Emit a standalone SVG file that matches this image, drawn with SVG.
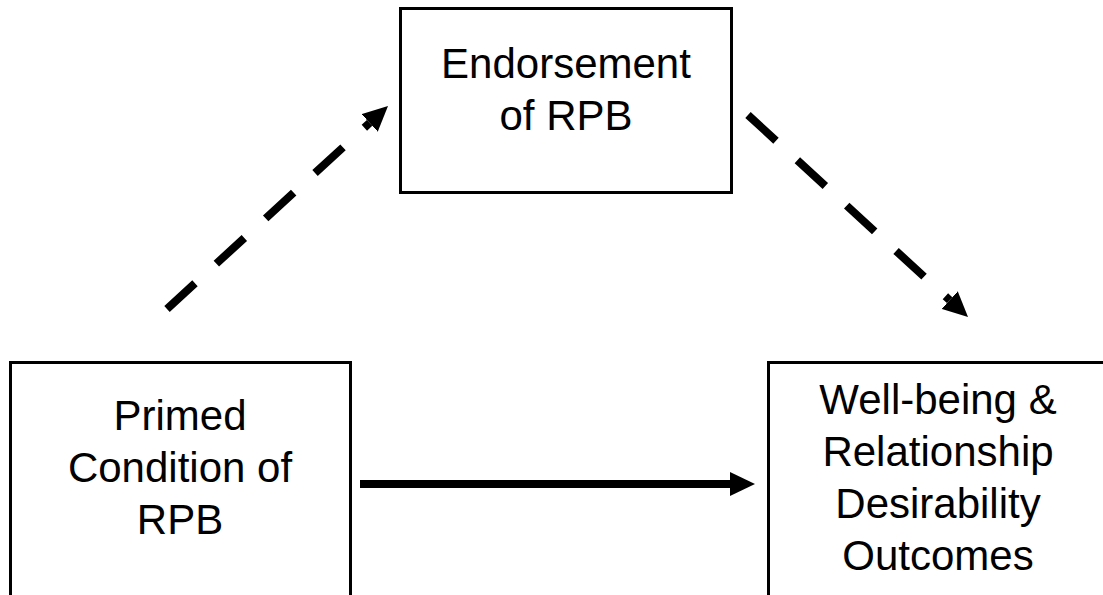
<svg xmlns="http://www.w3.org/2000/svg" width="1103" height="595" viewBox="0 0 1103 595">
<style>
.box{fill:#fff;stroke:#000;stroke-width:3}
.lbl{font-family:"Liberation Sans",Arial,sans-serif;font-size:42px;fill:#000;text-anchor:middle}
.conn{fill:none;stroke:#000;stroke-width:8}
.dash{stroke-dasharray:38 29}
</style>
<defs>
<marker id="ah" markerUnits="userSpaceOnUse" markerWidth="26" markerHeight="24" refX="0" refY="12" orient="auto" viewBox="0 0 26 24">
<path d="M0,0 L25,12 L0,24 z" fill="#000"/>
</marker>
</defs>
<rect width="1103" height="595" fill="#fff"/>
<g id="endorsement">
<rect class="box" x="400.5" y="8.5" width="331" height="184"/>
<text class="lbl" x="566" y="78">Endorsement</text>
<text class="lbl" x="566" y="130">of RPB</text>
</g>
<g id="primed">
<rect class="box" x="10.5" y="362.5" width="340" height="250"/>
<text class="lbl" x="180" y="430">Primed</text>
<text class="lbl" x="180" y="482">Condition of</text>
<text class="lbl" x="180" y="534">RPB</text>
</g>
<g id="outcomes">
<rect class="box" x="768.5" y="362.5" width="340" height="250"/>
<text class="lbl" x="938" y="414">Well-being &amp;</text>
<text class="lbl" x="938" y="466">Relationship</text>
<text class="lbl" x="938" y="518">Desirability</text>
<text class="lbl" x="938" y="570">Outcomes</text>
</g>
<g id="connectors">
<path class="conn dash" d="M167,309 L369.6,122.9" marker-end="url(#ah)"/>
<path class="conn dash" d="M748,115 L949.6,300.1" marker-end="url(#ah)"/>
<path class="conn" d="M360,484 L730,484" marker-end="url(#ah)"/>
</g>
</svg>
